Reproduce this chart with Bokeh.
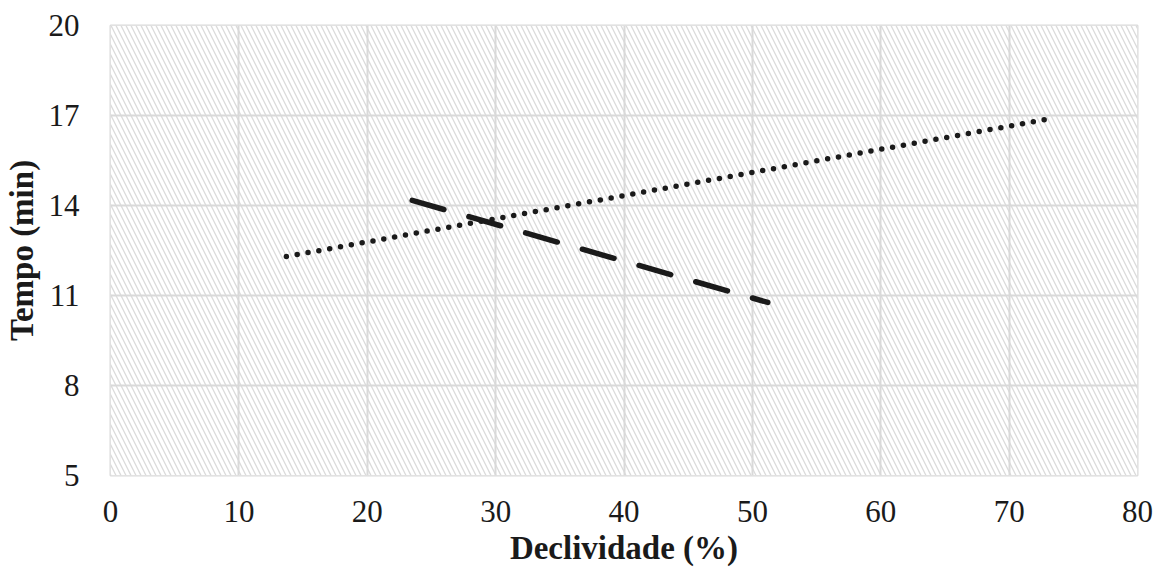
from bokeh.plotting import figure
from bokeh.models import BoxAnnotation, FixedTicker, Range1d
from bokeh.embed import file_html
from bokeh.resources import INLINE

# Data
dotted_x = [13.7, 73.3]
dotted_y = [12.3, 16.9]
dashed_x = [23.5, 51.2]
dashed_y = [14.17, 10.77]

x_ticks = [0, 10, 20, 30, 40, 50, 60, 70, 80]
y_ticks = [5, 8, 11, 14, 17, 20]
x_label = "Declividade (%)"
y_label = "Tempo (min)"

FONT = "Liberation Serif"
GRID = "#d9d9d9"

p = figure(width=1156, height=574, output_backend="svg", toolbar_location=None,
           x_range=Range1d(x_ticks[0], x_ticks[-1]), y_range=Range1d(y_ticks[0], y_ticks[-1]),
           min_border_left=110, min_border_right=19, min_border_top=25, min_border_bottom=99)

p.outline_line_color = GRID
p.outline_line_width = 2
p.background_fill_color = "white"
p.border_fill_color = "white"

bg = BoxAnnotation(fill_color="white", fill_alpha=1.0, line_color=None,
                   hatch_pattern="\\", hatch_color="#dadada", hatch_scale=10,
                   hatch_weight=1.3, level="image")
p.add_layout(bg)

p.xgrid.grid_line_color = GRID
p.ygrid.grid_line_color = GRID
p.xgrid.grid_line_width = 2
p.ygrid.grid_line_width = 2

p.xaxis.ticker = FixedTicker(ticks=x_ticks)
p.yaxis.ticker = FixedTicker(ticks=y_ticks)
p.xgrid.ticker = FixedTicker(ticks=x_ticks)
p.ygrid.ticker = FixedTicker(ticks=y_ticks)

for ax in (p.xaxis[0], p.yaxis[0]):
    ax.axis_line_color = None
    ax.major_tick_line_color = None
    ax.minor_tick_line_color = None
    ax.major_label_text_font = FONT
    ax.major_label_text_font_size = "31px"
    ax.major_label_text_color = "#1a1a1a"
    ax.axis_label_text_font = FONT
    ax.axis_label_text_font_size = "33px"
    ax.axis_label_text_font_style = "bold"
    ax.axis_label_text_color = "#1a1a1a"

p.xaxis.axis_label = x_label
p.yaxis.axis_label = y_label
p.xaxis.major_label_standoff = 19
p.yaxis.major_label_standoff = 25
p.xaxis.axis_label_standoff = 5
p.yaxis.axis_label_standoff = 6

p.line(dotted_x, dotted_y, line_color="#1a1a1a", line_width=5.5,
       line_dash="0 11", line_cap="round")
p.line(dashed_x, dashed_y, line_color="#1a1a1a", line_width=5.5,
       line_dash="33 26", line_cap="round")

open("out.html", "w").write(file_html(p, INLINE))
